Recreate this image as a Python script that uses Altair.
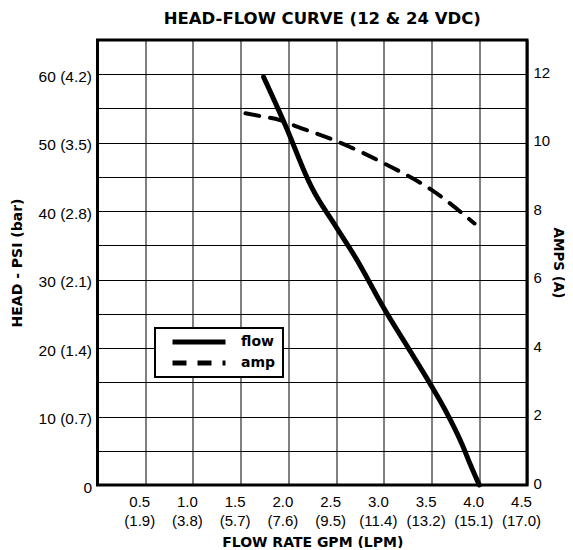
import json
import altair as alt
import pandas as pd

# ---- data ----
flow_gpm = [1.74, 1.96, 2.24, 2.50, 2.70, 3.01, 3.27, 3.48, 3.66, 3.83, 3.90, 4.00]
flow_psi = [59.6, 52.8, 43.6, 37.7, 33.3, 25.6, 19.7, 14.9, 10.5, 5.6, 3.2, 0.0]

amp_gpm = [1.55, 1.70, 1.91, 2.09, 2.50, 3.00, 3.50, 3.95]
amp_a = [10.86, 10.78, 10.66, 10.47, 10.05, 9.40, 8.62, 7.64]

x_ticks = [0.5, 1.0, 1.5, 2.0, 2.5, 3.0, 3.5, 4.0, 4.5]
x_gpm_labels = ["0.5", "1.0", "1.5", "2.0", "2.5", "3.0", "3.5", "4.0", "4.5"]
x_lpm_labels = ["(1.9)", "(3.8)", "(5.7)", "(7.6)", "(9.5)", "(11.4)", "(13.2)", "(15.1)", "(17.0)"]

psi_grid = [0, 5, 10, 15, 20, 25, 30, 35, 40, 45, 50, 55, 60, 65]
psi_ticks = [0, 10, 20, 30, 40, 50, 60]
psi_labels = ["0", "10 (0.7)", "20 (1.4)", "30 (2.1)", "40 (2.8)", "50 (3.5)", "60 (4.2)"]

amp_ticks = [0, 2, 4, 6, 8, 10, 12]

series = ["flow", "amp"]

flow_df = pd.DataFrame({"gpm": flow_gpm, "psi": flow_psi, "series": "flow"})
amp_df = pd.DataFrame({"gpm": amp_gpm, "amps": amp_a, "series": "amp"})

xv = json.dumps(x_ticks)
x_expr = (f"[{json.dumps(x_gpm_labels)}[indexof({xv}, datum.value)], "
          f"{json.dumps(x_lpm_labels)}[indexof({xv}, datum.value)]]")
pv = json.dumps(psi_ticks)
psi_expr = (f"indexof({pv}, datum.value) >= 0 ? "
            f"{json.dumps(psi_labels)}[indexof({pv}, datum.value)] : ''")

LABEL_FONT = "Liberation Sans"
TITLE_FONT = "DejaVu Sans"

x_enc = alt.X(
    "gpm:Q",
    scale=alt.Scale(domain=[0, 4.5], nice=False, zero=False),
    axis=alt.Axis(
        values=x_ticks, labelExpr=x_expr, title="FLOW RATE GPM (LPM)",
        grid=True, gridColor="black", gridWidth=1, gridOpacity=1,
        ticks=False, domain=False, labelFlush=False, labelOverlap=False,
        labelPadding=9, labelLineHeight=19.5, labelOffset=-6,
        labelFont=LABEL_FONT, labelFontSize=15, labelColor="black",
        titleFont=TITLE_FONT, titleFontSize=14, titleFontWeight="bold",
        titleColor="black", titleBaseline="alphabetic", titleY=61,
    ),
)

dash_scale = alt.Scale(domain=series, range=[[1, 0], [14, 11]])
legend = alt.Legend(
    orient="none", legendX=57.5, legendY=288, title=None,
    symbolType="stroke", symbolSize=2809, symbolStrokeWidth=5,
    symbolStrokeColor="black", symbolOffset=8, clipHeight=14,
    labelFont=TITLE_FONT, labelFontWeight="bold", labelFontSize=14,
    labelColor="black", labelOffset=13,
    strokeColor="black", fillColor="white", padding=7, rowPadding=7,
)

flow_line = alt.Chart(flow_df).mark_line(
    color="black", strokeWidth=5, strokeCap="round", strokeJoin="round",
    interpolate="monotone",
).encode(
    x=x_enc,
    y=alt.Y(
        "psi:Q",
        scale=alt.Scale(domain=[0, 65], nice=False, zero=True),
        axis=alt.Axis(
            orient="left", values=psi_grid, labelExpr=psi_expr,
            title="HEAD - PSI (bar)",
            grid=True, gridColor="black", gridWidth=1, gridOpacity=1,
            ticks=False, domain=False, labelFlush=False, labelOverlap=False,
            labelPadding=6, labelOffset=2,
            labelFont=LABEL_FONT, labelFontSize=15.5, labelColor="black",
            titleFont=TITLE_FONT, titleFontSize=14, titleFontWeight="bold",
            titleColor="black", titlePadding=14,
        ),
    ),
    strokeDash=alt.StrokeDash("series:N", scale=dash_scale, legend=legend),
)

amp_line = alt.Chart(amp_df).mark_line(
    color="black", strokeWidth=4, strokeCap="round", strokeJoin="round",
    interpolate="monotone",
).encode(
    x=x_enc,
    y=alt.Y(
        "amps:Q",
        scale=alt.Scale(domain=[0, 13], nice=False, zero=True),
        axis=alt.Axis(
            orient="right", values=amp_ticks, title="AMPS (A)",
            grid=False, ticks=False, domain=False,
            labelFlush=False, labelOverlap=False, labelPadding=6, labelOffset=-2,
            labelFont=LABEL_FONT, labelFontSize=15, labelColor="black",
            titleFont=TITLE_FONT, titleFontSize=13.5, titleFontWeight="bold",
            titleColor="black", titleBaseline="alphabetic", titleX=26,
        ),
    ),
    strokeDash=alt.StrokeDash("series:N", scale=dash_scale, legend=legend),
)

chart = alt.layer(flow_line, amp_line).resolve_scale(
    y="independent"
).properties(
    width=429.5, height=445,
    title=alt.TitleParams(
        "HEAD-FLOW CURVE (12 & 24 VDC)", font=TITLE_FONT, fontSize=16.5,
        fontWeight="bold", color="black", dx=10, offset=8,
    ),
    autosize=alt.AutoSizeParams(type="none"),
    padding={"left": 89.5, "top": 32, "right": 38, "bottom": 63},
).configure_view(
    stroke="black", strokeWidth=3
).configure_legend(
    strokeWidth=2
)

chart.save("out.html", embed_options={"renderer": "svg", "actions": False})
